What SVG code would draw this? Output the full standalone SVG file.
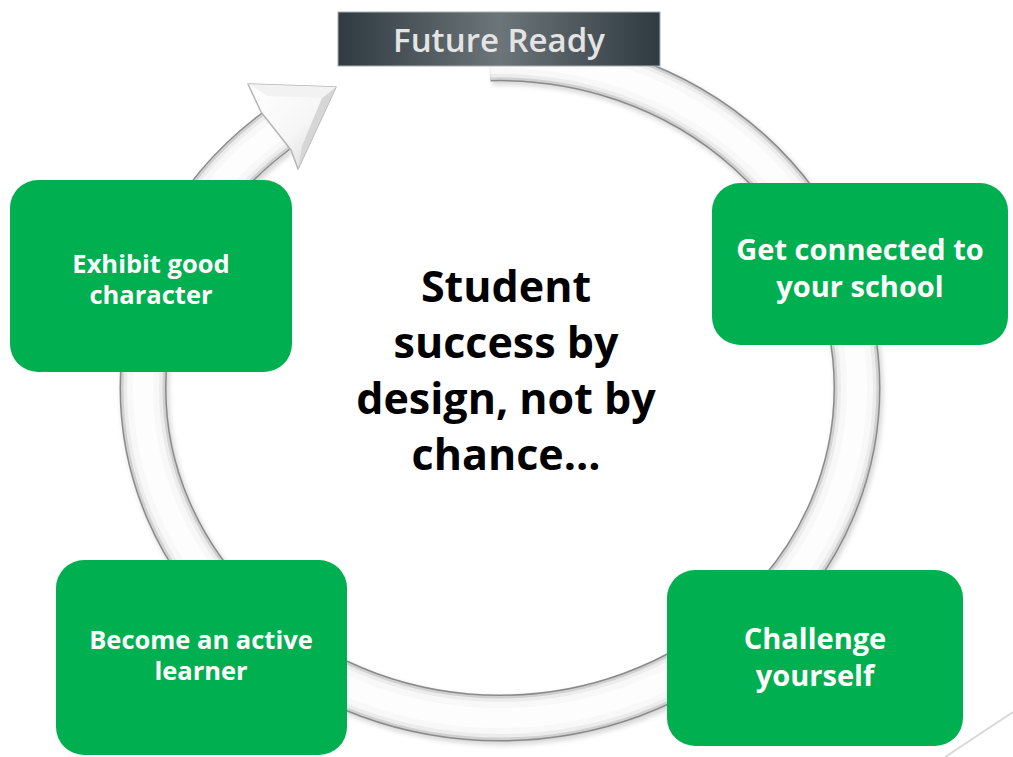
<svg xmlns="http://www.w3.org/2000/svg" width="1013" height="757" viewBox="0 0 1013 757">
  <defs>
    <linearGradient id="bannerGrad" x1="0" y1="0" x2="1" y2="0">
      <stop offset="0" stop-color="#2f3a41"/>
      <stop offset="0.5" stop-color="#6c7579"/>
      <stop offset="1" stop-color="#2f3a41"/>
    </linearGradient>
    <linearGradient id="headGrad" x1="0" y1="0" x2="1" y2="1">
      <stop offset="0" stop-color="#ffffff"/>
      <stop offset="0.55" stop-color="#f6f6f6"/>
      <stop offset="1" stop-color="#d2d2d2"/>
    </linearGradient>
    <filter id="soft" x="-10%" y="-10%" width="120%" height="120%">
      <feGaussianBlur stdDeviation="2.5"/>
    </filter>
    <!-- centre line of the cycle ring -->
    <path id="ringPath" d="M490,58 A357,330 0 0 1 857,388 A357,330 0 0 1 500,718 A357,330 0 0 1 143,388 A357,330 0 0 1 276,131"/>
    <style>
      .box { fill: #00b050; }
      .label { font-family: "Open Sans", "DejaVu Sans", sans-serif; font-weight: 700; fill: #ffffff; text-anchor: middle; }
      .centre { font-family: "Open Sans", "DejaVu Sans", sans-serif; font-weight: 700; fill: #000000; text-anchor: middle; font-size: 43px; }
      .ring { fill: none; stroke-linecap: butt; }
    </style>
  </defs>

  <rect width="1013" height="757" fill="#ffffff"/>

  <!-- cycle ring with arrowhead -->
  <g id="connectors">
    <use href="#ringPath" class="ring" stroke="#000000" stroke-opacity="0.16" stroke-width="48" filter="url(#soft)" transform="translate(2,3)"/>
    <use href="#ringPath" class="ring" stroke="#8a8a8a" stroke-width="47"/>
    <use href="#ringPath" class="ring" stroke="#d0d0d0" stroke-width="44"/>
    <use href="#ringPath" class="ring" stroke="#ececec" stroke-width="39"/>
    <use href="#ringPath" class="ring" stroke="#f8f8f8" stroke-width="32"/>
    <use href="#ringPath" class="ring" stroke="#fdfdfd" stroke-width="20"/>
    <polygon points="248,84 336,87 298,169 291,150 261,112" fill="url(#headGrad)" stroke="#b5b5b5" stroke-width="1.5" stroke-linejoin="round"/>
    <polygon points="336,87 298,169 302,146 322,98" fill="#d6d6d6"/>
    <polygon points="248,84 336,87 322,98 268,96" fill="#f2f2f2"/>
    <!-- faint corner line -->
    <line x1="945" y1="757" x2="1013" y2="712" stroke="#d9d9d9" stroke-width="2"/>
  </g>

  <!-- banner -->
  <g id="future-ready">
    <rect x="338" y="12" width="322" height="54" fill="url(#bannerGrad)" stroke="#a9aeb1" stroke-width="1"/>
    <text x="499" y="52" font-family="'Open Sans', 'DejaVu Sans', sans-serif" font-weight="600" font-size="33" fill="#e4e4e4" text-anchor="middle">Future Ready</text>
  </g>

  <g id="node-character">
    <rect class="box" x="10" y="180" width="282" height="192" rx="28"/>
    <text class="label" font-size="25.5" x="151" y="273">Exhibit good</text>
    <text class="label" font-size="25.5" x="151" y="304">character</text>
  </g>

  <g id="node-connected">
    <rect class="box" x="712" y="183" width="296" height="162" rx="28"/>
    <text class="label" font-size="29" x="860" y="260">Get connected to</text>
    <text class="label" font-size="29" x="860" y="297">your school</text>
  </g>

  <g id="node-challenge">
    <rect class="box" x="667" y="570" width="296" height="176" rx="28"/>
    <text class="label" font-size="29" x="815" y="649">Challenge</text>
    <text class="label" font-size="29" x="815" y="686">yourself</text>
  </g>

  <g id="node-learner">
    <rect class="box" x="56" y="560" width="291" height="195" rx="28"/>
    <text class="label" font-size="25.5" x="201" y="649">Become an active</text>
    <text class="label" font-size="25.5" x="201" y="680">learner</text>
  </g>

  <g id="centre-text">
    <text class="centre" x="506" y="302">Student</text>
    <text class="centre" x="506" y="358">success by</text>
    <text class="centre" x="506" y="414">design, not by</text>
    <text class="centre" x="506" y="470">chance…</text>
  </g>
</svg>
